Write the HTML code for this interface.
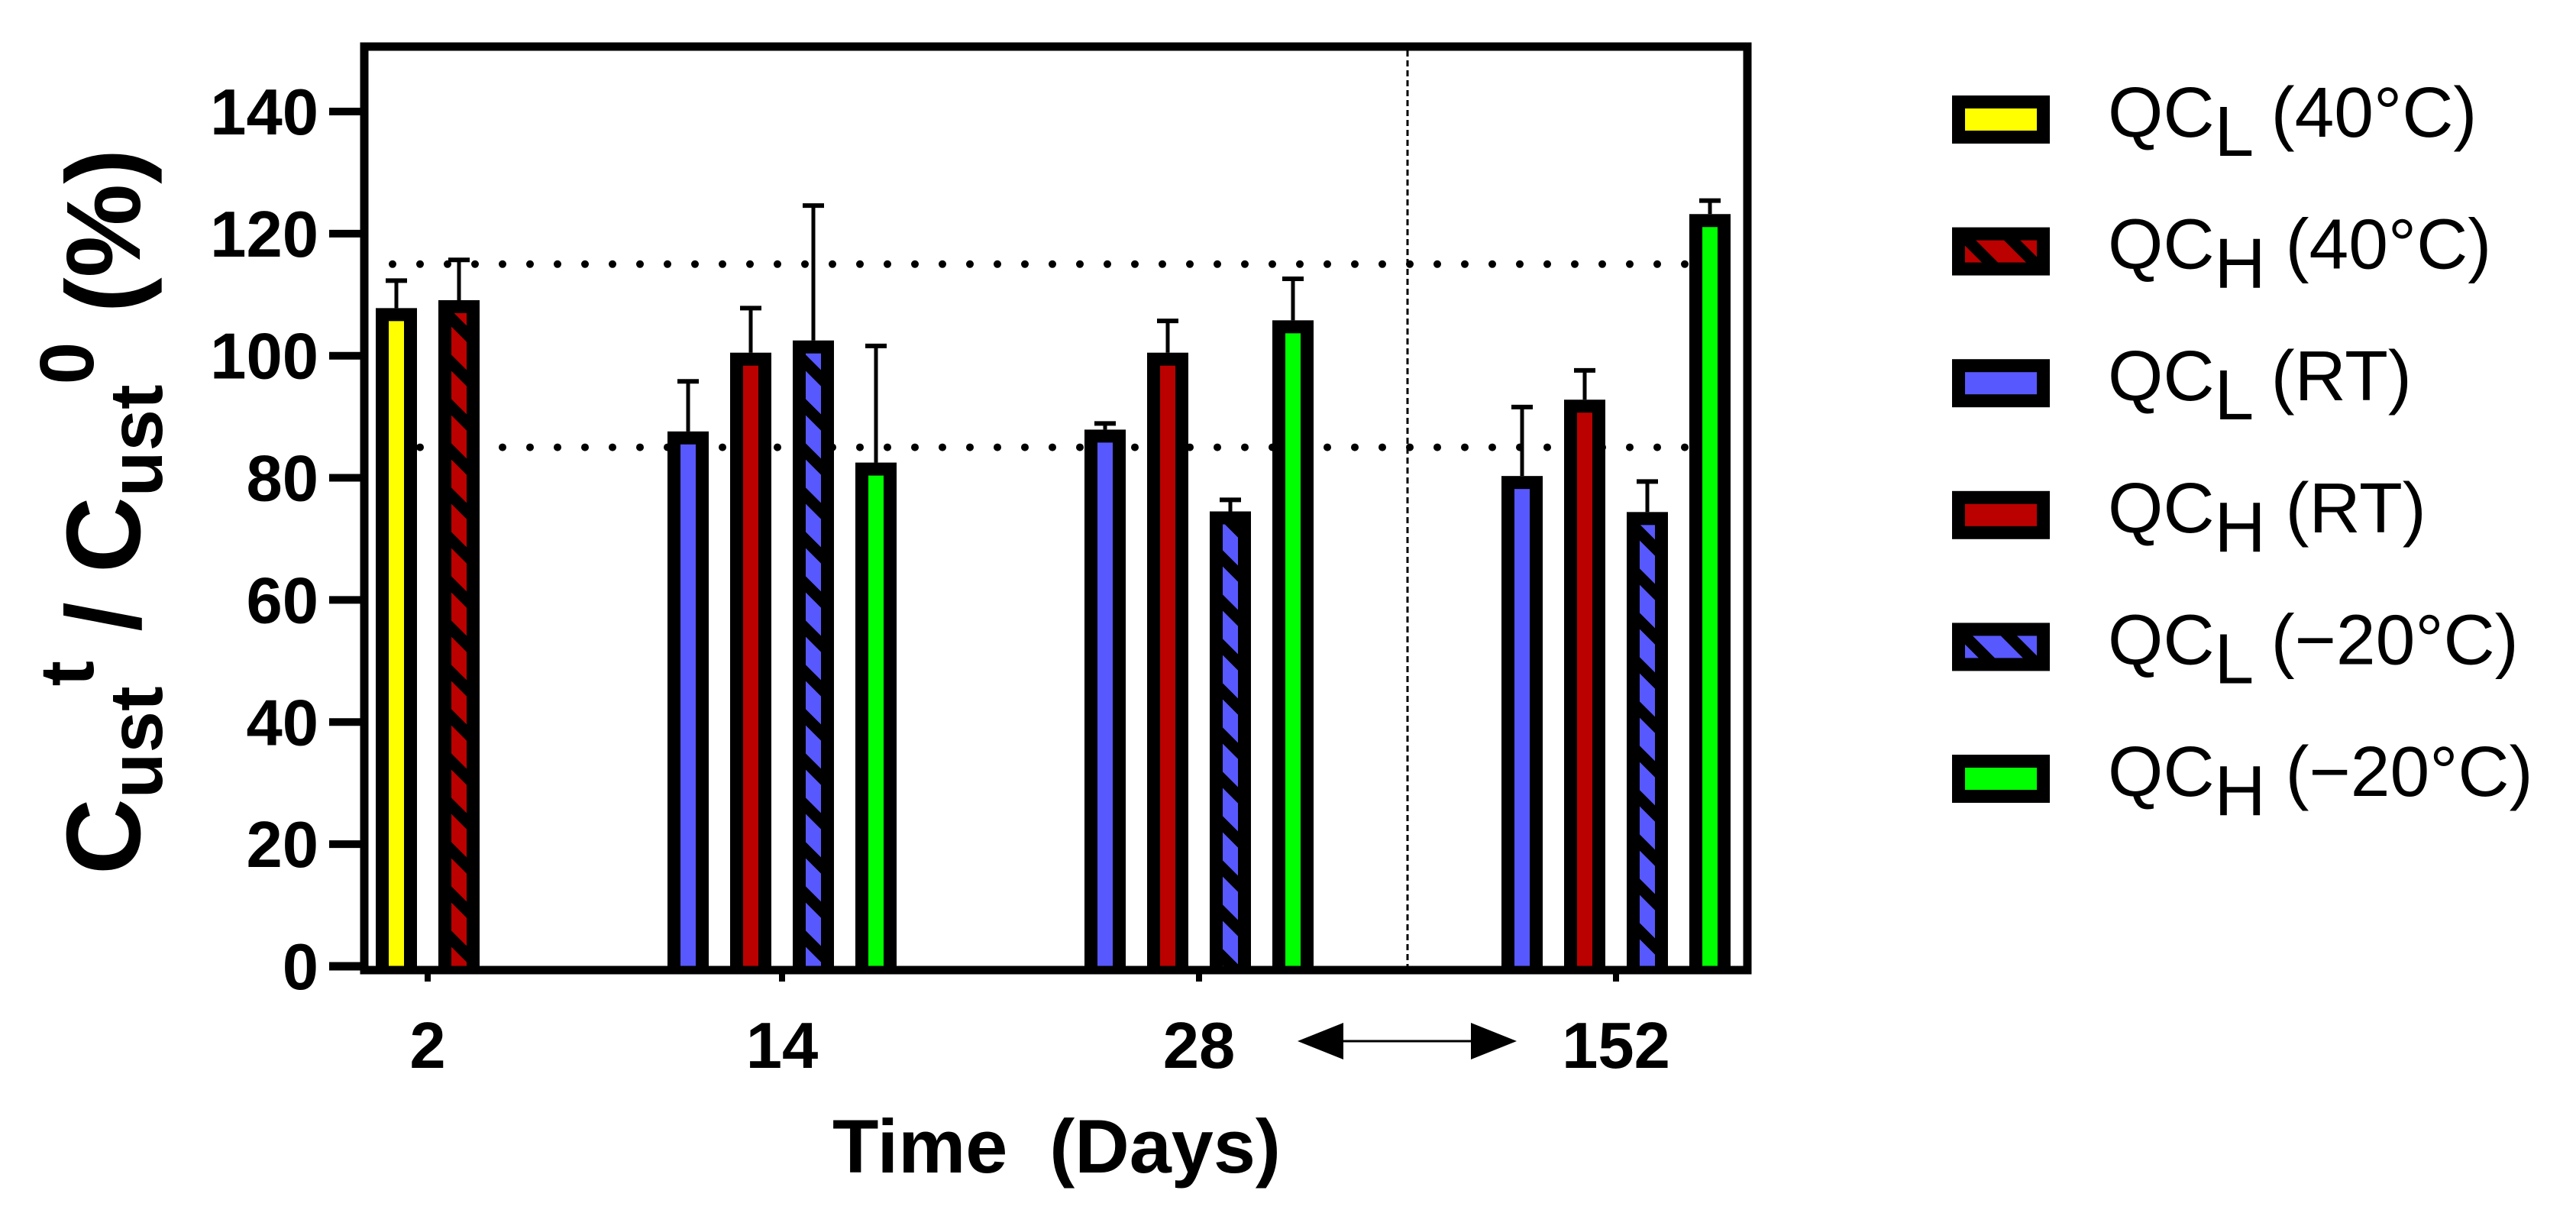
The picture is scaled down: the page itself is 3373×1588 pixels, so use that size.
<!DOCTYPE html>
<html><head><meta charset="utf-8"><style>
html,body{margin:0;padding:0;background:#fff;}
svg{display:block;}
</style></head><body>
<svg id="chart" xmlns="http://www.w3.org/2000/svg" width="3373" height="1588" viewBox="0 0 3373 1588" font-family="Liberation Sans, Arial, sans-serif">
<defs>
<pattern id="hatchRed" patternUnits="userSpaceOnUse" width="58" height="58">
<rect width="58" height="58" fill="#bb0000"/>
<path d="M-20,-20 L78,78 M-78,-20 L20,78 M38,-20 L136,78" stroke="#000" stroke-width="15"/>
</pattern>
<pattern id="hatchBlue" patternUnits="userSpaceOnUse" width="58" height="58">
<rect width="58" height="58" fill="#5858ff"/>
<path d="M-20,-20 L78,78 M-78,-20 L20,78 M38,-20 L136,78" stroke="#000" stroke-width="15"/>
</pattern>
</defs>
<g id="grid"></g>
<g id="bars"></g>
<g id="axes"></g>
<text transform="translate(183,1145) rotate(-90)" font-weight="bold" font-size="138" fill="#000"><tspan>C</tspan><tspan font-size="98" dy="29">ust</tspan><tspan font-size="100" dy="-90">t</tspan><tspan dy="61"> / C</tspan><tspan font-size="98" dy="29">ust</tspan><tspan font-size="100" dy="-90">0</tspan><tspan dy="61"> (%)</tspan></text>
<text x="1090" y="1535" font-weight="bold" font-size="99" fill="#000" xml:space="preserve">Time  (Days)</text>
<g>
<line x1="1750" y1="1363" x2="1935" y2="1363" stroke="#000" stroke-width="3"/>
<polygon points="1699,1363 1759,1339 1759,1387" fill="#000"/>
<polygon points="1986,1363 1926,1339 1926,1387" fill="#000"/>
</g>
<g id="legend"></g>
</svg>
<script>
const categories = ["2", "14", "28", "152"];
const seriesNames = ["QCL40", "QCH40", "QCLRT", "QCHRT", "QCL-20", "QCH-20"];
const qcL40 = [107.8, null, null, null];
const qcH40 = [109.1, null, null, null];
const qcLRT = [null, 87.6, 87.9, 80.3];
const qcHRT = [null, 100.5, 100.5, 92.8];
const qcLm20 = [null, 102.5, 74.5, 74.4];
const qcHm20 = [null, 82.5, 105.8, 123.2];
const errL40 = [4.5, null, null, null];
const errH40 = [6.6, null, null, null];
const errLRT = [null, 8.2, 1.0, 11.3];
const errHRT = [null, 7.3, 5.2, 4.8];
const errLm20 = [null, 22.1, 1.9, 5.0];
const errHm20 = [null, 19.1, 6.8, 2.2];
const yTicks = [0, 20, 40, 60, 80, 100, 120, 140];
const refLines = [85, 115];

const NS = "http://www.w3.org/2000/svg";
const Y0 = 1265, PPU = 7.993;
function y(v){ return Y0 - v * PPU; }
const fills = ["#ffff00", "url(#hatchRed)", "#5858ff", "#bb0000", "url(#hatchBlue)", "#00ff00"];
const values = [qcL40, qcH40, qcLRT, qcHRT, qcLm20, qcHm20];
const errs = [errL40, errH40, errLRT, errHRT, errLm20, errHm20];
const labels = [["L","(40°C)"],["H","(40°C)"],["L","(RT)"],["H","(RT)"],["L","(−20°C)"],["H","(−20°C)"]];
function mk(tag, attrs, parent){ const e=document.createElementNS(NS,tag); for(const k in attrs) e.setAttribute(k,attrs[k]); parent.appendChild(e); return e; }

const L = 482, R = 2283, T = 66;
const SLOT = 82, GAP = 218, START = 478;
// layout groups
const groupCenters = [], barX = [];
let cursor = START;
categories.forEach((c, gi) => {
  const present = [];
  values.forEach((s, si) => { if (s[gi] !== null) present.push(si); });
  const w = present.length * SLOT;
  groupCenters.push(cursor + w / 2);
  present.forEach((si, k) => barX.push({gi, si, cx: cursor + SLOT * k + SLOT / 2}));
  cursor += w + GAP;
});

const grid = document.getElementById('grid');
refLines.forEach(v => {
  const l = mk('line', {x1: 514, y1: y(v), x2: 2278, y2: y(v), stroke: '#000', 'stroke-width': 10, 'stroke-linecap': 'round', 'stroke-dasharray': '0 36'}, grid);
  
  
});
// vertical separator between 28 and 152
const sepX = (groupCenters[2] + 2 * SLOT + groupCenters[3] - 2 * SLOT) / 2;
const sep = mk('line', {x1: sepX, y1: T, x2: sepX, y2: Y0, stroke: '#000', 'stroke-width': 3, 'stroke-dasharray': '8 5'}, grid);



const bars = document.getElementById('bars');
const BW = 54, B = 17;
barX.forEach(b => {
  const v = values[b.si][b.gi], e = errs[b.si][b.gi];
  const g = mk('g', {}, bars);
  
  
  const top = y(v), et = y(v + e);
  mk('line', {x1: b.cx, y1: top, x2: b.cx, y2: et, stroke: '#000', 'stroke-width': 5}, g);
  mk('line', {x1: b.cx - 14, y1: et, x2: b.cx + 14, y2: et, stroke: '#000', 'stroke-width': 6}, g);
  mk('rect', {x: b.cx - BW / 2, y: top, width: BW, height: Y0 - top, fill: '#000'}, g);
  mk('rect', {x: b.cx - BW / 2 + B, y: top + B, width: BW - 2 * B, height: Math.max(0, Y0 - top - B), fill: fills[b.si]}, g);
});

const axes = document.getElementById('axes');
mk('rect', {x: L - 5, y: T - 5, width: R - L + 10, height: Y0 - T + 10, fill: 'none', stroke: '#000', 'stroke-width': 11}, axes);
mk('line', {x1: 431, y1: Y0, x2: L, y2: Y0, stroke: '#000', 'stroke-width': 11}, axes);
yTicks.forEach(t => {
  mk('line', {x1: 431, y1: y(t), x2: L, y2: y(t), stroke: '#000', 'stroke-width': 10}, axes);
  const tx = mk('text', {x: 417, y: y(t) + 30, 'text-anchor': 'end', 'font-size': 85, 'font-weight': 'bold'}, axes);
  tx.textContent = t;
  
  
});
categories.forEach((c, i) => {
  mk('line', {x1: groupCenters[i], y1: Y0, x2: groupCenters[i], y2: Y0 + 20, stroke: '#000', 'stroke-width': 8}, axes);
  const tx = mk('text', {x: groupCenters[i], y: 1398, 'text-anchor': 'middle', 'font-size': 85, 'font-weight': 'bold'}, axes);
  tx.textContent = c;
  
  
});

const legend = document.getElementById('legend');
seriesNames.forEach((n, i) => {
  const cy = 156 + i * 172.6;
  const g = mk('g', {}, legend);
  
  
  mk('rect', {x: 2556, y: cy - 31, width: 128, height: 63, fill: '#000'}, g);
  mk('rect', {x: 2573, y: cy - 14, width: 94, height: 29, fill: fills[i]}, g);
  const t = mk('text', {x: 2760, y: cy + 23, 'font-size': 93}, g);
  const a = mk('tspan', {}, t); a.textContent = 'QC';
  const s = mk('tspan', {dy: 25}, t); s.textContent = labels[i][0];
  const r = mk('tspan', {dy: -25}, t); r.textContent = ' ' + labels[i][1];
});
</script>
</body></html>
